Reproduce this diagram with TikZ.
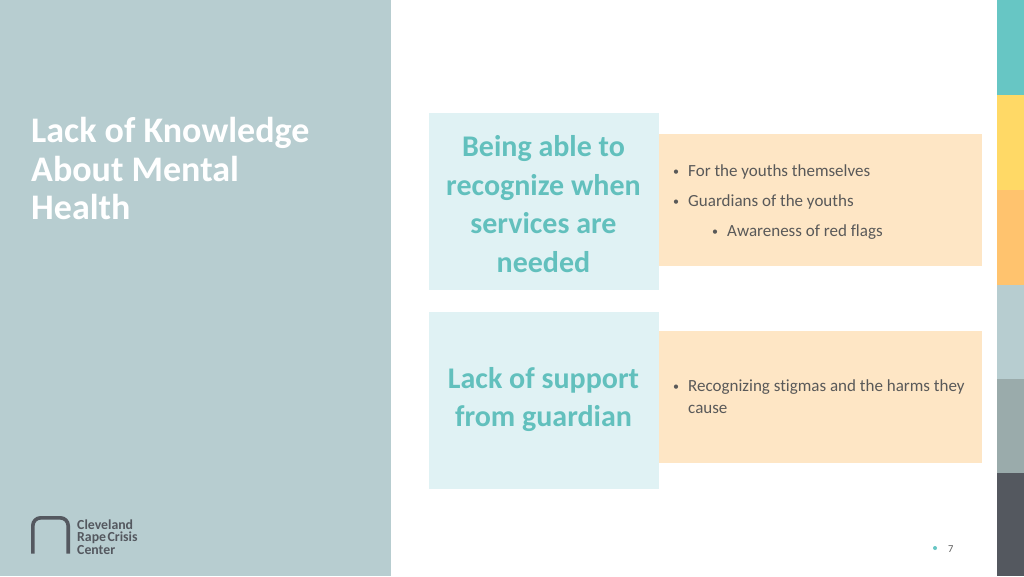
\documentclass[tikz,border=0pt]{standalone}
\usepackage{fontspec}
\setmainfont[Ligatures=NoCommon]{Carlito}
\usetikzlibrary{positioning}
\definecolor{sidebar}{HTML}{B7CDD0}
\definecolor{paleteal}{HTML}{E0F2F4}
\definecolor{peach}{HTML}{FEE6C5}
\definecolor{tealtext}{HTML}{62C0BD}
\definecolor{bodygrey}{HTML}{595959}
\definecolor{stripeA}{HTML}{67C6C4}
\definecolor{stripeB}{HTML}{FFD966}
\definecolor{stripeC}{HTML}{FFC36E}
\definecolor{stripeD}{HTML}{B7CDD0}
\definecolor{stripeE}{HTML}{9AABAB}
\definecolor{stripeF}{HTML}{54585F}
\newcommand{\bul}{\makebox[15pt][l]{\raisebox{1pt}{\fontsize{12}{12}\selectfont •}}}
\tikzset{
  headbox/.style={fill=paleteal, inner sep=0pt, minimum width=230pt, minimum height=177pt, anchor=north west},
  headtext/.style={inner sep=0pt, text=tealtext, align=center, font=\fontsize{30}{38.4}\selectfont\bfseries},
  detailbox/.style={fill=peach, inner sep=0pt, minimum width=323pt, minimum height=132pt, anchor=north west},
  bodytext/.style={anchor=base west, inner sep=0pt, text=bodygrey, font=\fontsize{17}{20}\selectfont},
  logotext/.style={anchor=base west, inner sep=0pt, text=stripeF, font=\fontsize{13.8}{12}\selectfont\bfseries}
}
\begin{document}
\begin{tikzpicture}[x=1pt,y=-1pt]
  % Page
  \useasboundingbox (0,0) rectangle (1024,576);
  \fill[white] (0,0) rectangle (1024,576);

  % Left panel
  \fill[sidebar] (0,0) rectangle (391,576);
  \node[anchor=north west, inner sep=0pt, text=white, align=left, font=\fontsize{36}{38.4}\selectfont\bfseries]
    (title) at (31,117.5) {Lack of Knowledge\\About Mental\\Health};

  % Logo
  \draw[stripeF, line width=3.6pt, rounded corners=8pt] (32.8,553.5) -- (32.8,517.8) -- (68.2,517.8) -- (68.2,553.5);
  \node[logotext] (logoA) at (77,529.5) {Cleveland};
  \node[logotext] (logoB) at (77,541.5) {Rape\hspace{1.5pt}Crisis};
  \node[logotext] (logoC) at (77,554.5) {Center};

  % Right stripes
  \fill[stripeA] (997,0) rectangle (1024,95);
  \fill[stripeB] (997,95) rectangle (1024,190);
  \fill[stripeC] (997,190) rectangle (1024,285);
  \fill[stripeD] (997,285) rectangle (1024,379);
  \fill[stripeE] (997,379) rectangle (1024,473);
  \fill[stripeF] (997,473) rectangle (1024,576);

  % Detail boxes
  \node[detailbox] (detailA) at (659,134) {};
  \node[detailbox] (detailB) at (659,331) {};

  % Heading boxes
  \node[headbox] (headA) at (429,113) {};
  \node[headbox] (headB) at (429,312) {};
  \node[headtext] (headAtext) at (543.5,204) {Being able to\\recognize when\\services are\\needed};
  \node[headtext] (headBtext) at (543.5,399.5) {Lack of support\\from guardian};

  % Bullet lists
  \node[bodytext] (itemA) at (673,176) {\bul For the youths themselves};
  \node[bodytext] (itemB) at (673,206) {\bul Guardians of the youths};
  \node[bodytext] (itemC) at (712,236) {\bul Awareness of red flags};
  \node[bodytext] (itemD) at (673,391.5) {\bul Recognizing stigmas and the harms they};
  \node[bodytext] (itemE) at (688,413.5) {cause};

  % Page number
  \fill[stripeA] (935,548) circle (2);
  \node[anchor=base west, inner sep=0pt, text=bodygrey, font=\fontsize{10.5}{12}\selectfont] (pagenum) at (948,552) {7};
\end{tikzpicture}
\end{document}
